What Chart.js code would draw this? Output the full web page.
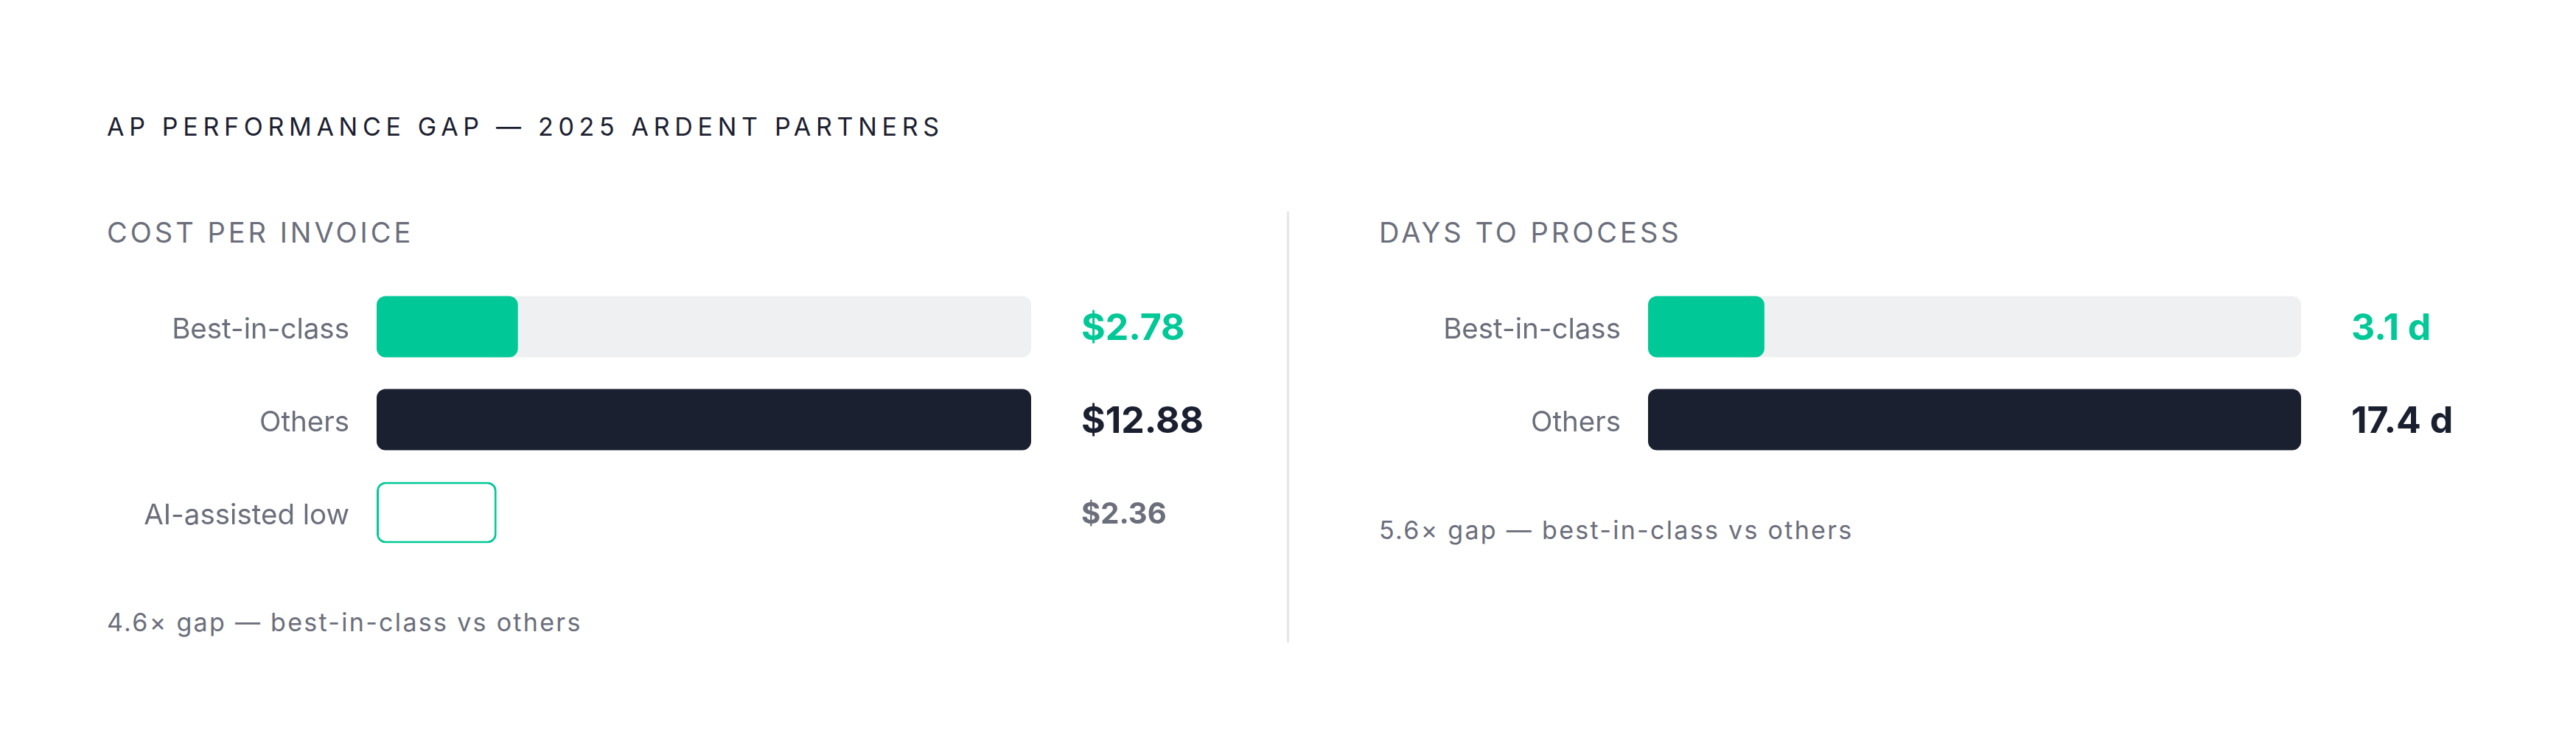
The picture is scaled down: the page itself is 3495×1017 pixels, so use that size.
<!DOCTYPE html>
<html>
<head>
<meta charset="utf-8">
<title>AP performance gap</title>
<script src="https://cdn.jsdelivr.net/npm/chart.js@4.4.1/dist/chart.umd.min.js"></script>
<style>
  html, body { margin: 0; padding: 0; background: #ffffff; }
  body { width: 3495px; height: 1017px; position: relative; overflow: hidden; font-family: Inter, "Noto Sans", sans-serif; }
  .txt { position: absolute; white-space: nowrap; line-height: 1; }
  .title { left: 145px; top: 155px; font-size: 34px; font-weight: 400; letter-spacing: 6.7px; color: #1b2030; }
  .section { top: 296px; font-size: 38px; font-weight: 400; letter-spacing: 4px; color: #6b6e7b; }
  .note { font-size: 34px; letter-spacing: 2.3px; color: #6b6e7b; }
  .divider { position: absolute; left: 1746px; top: 287px; width: 3px; height: 584px; background: #e6e7eb; }
  .panel { position: absolute; }
</style>
</head>
<body>
<div class="txt title">AP PERFORMANCE GAP — 2025 ARDENT PARTNERS</div>

<div class="txt section" style="left:145px">COST PER INVOICE</div>
<div class="panel" style="left:145px; top:380px; width:1554px; height:378px;"><canvas id="costChart"></canvas></div>
<div class="txt note" style="left:145px; top:827px">4.6× gap — best-in-class vs others</div>

<div class="divider"></div>

<div class="txt section" style="left:1871px">DAYS TO PROCESS</div>
<div class="panel" style="left:1871px; top:380px; width:1551px; height:252px;"><canvas id="daysChart"></canvas></div>
<div class="txt note" style="left:1871px; top:702px">5.6× gap — best-in-class vs others</div>

<script>
// Cost per invoice (USD)
const costLabels = ['Best-in-class', 'Others', 'AI-assisted low'];
const costValues = [2.78, 12.88, 2.36];

// Days to process
const daysLabels = ['Best-in-class', 'Others'];
const daysValues = [3.1, 17.4];

const GREEN = '#00c896';
const DARK = '#1b2030';
const GREY = '#6b6e7b';
const TRACK = '#eff0f2';

// value text at the right of each bar
const valueLabels = {
  id: 'valueLabels',
  afterDatasetsDraw(chart, args, opts) {
    const ctx = chart.ctx;
    const meta = chart.getDatasetMeta(0);
    ctx.save();
    ctx.textAlign = 'left';
    ctx.textBaseline = 'middle';
    meta.data.forEach((bar, i) => {
      const v = chart.data.datasets[0].data[i];
      ctx.fillStyle = opts.colors[i];
      ctx.font = '700 ' + opts.sizes[i] + 'px Inter';
      ctx.fillText(opts.format(v), chart.chartArea.right + 68, bar.y + 3);
    });
    ctx.restore();
  }
};

function makeChart(id, labels, values, style) {
  const max = Math.max(...values);
  // grey track behind the measured rows
  const track = labels.map((l, i) => (style.track[i] ? max : null));

  new Chart(document.getElementById(id), {
    type: 'bar',
    data: {
      labels: labels,
      datasets: [
        {
          data: values,
          backgroundColor: style.fill,
          borderColor: style.border,
          borderWidth: style.borderWidth,
          borderRadius: 12,
          borderSkipped: false,
          grouped: false,
          order: 0,
          categoryPercentage: 83 / 126,
          barPercentage: 1
        },
        {
          data: track,
          backgroundColor: TRACK,
          borderRadius: 12,
          borderSkipped: false,
          grouped: false,
          order: 1,
          categoryPercentage: 83 / 126,
          barPercentage: 1
        }
      ]
    },
    options: {
      indexAxis: 'y',
      responsive: true,
      maintainAspectRatio: false,
      animation: false,
      layout: { padding: { left: 0, right: 300, top: 0, bottom: 0 } },
      plugins: {
        legend: { display: false },
        tooltip: { enabled: false },
        valueLabels: { colors: style.textColors, sizes: style.textSizes, format: style.format }
      },
      scales: {
        x: { display: false, min: 0, max: max },
        y: {
          grid: { display: false, drawTicks: false },
          border: { display: false },
          ticks: {
            color: GREY,
            padding: 37,
            labelOffset: 4,
            font: { family: 'Inter', size: 38.5, weight: '400' }
          },
          afterFit(scale) {
            scale.width = style.axisWidth;
            scale.paddingTop = 0;
            scale.paddingBottom = 0;
          }
        }
      }
    },
    plugins: [valueLabels]
  });
}

makeChart('costChart', costLabels, costValues, {
  fill: [GREEN, DARK, '#ffffff'],
  border: [GREEN, DARK, GREEN],
  borderWidth: [0, 0, 3],
  track: [true, true, false],
  textColors: [GREEN, DARK, GREY],
  textSizes: [50, 50, 40],
  axisWidth: 366,
  format: v => '$' + v.toFixed(2)
});

makeChart('daysChart', daysLabels, daysValues, {
  fill: [GREEN, DARK],
  border: [GREEN, DARK],
  borderWidth: [0, 0],
  track: [true, true],
  textColors: [GREEN, DARK],
  textSizes: [50, 50],
  axisWidth: 365,
  format: v => v.toFixed(1) + ' d'
});
</script>
</body>
</html>
